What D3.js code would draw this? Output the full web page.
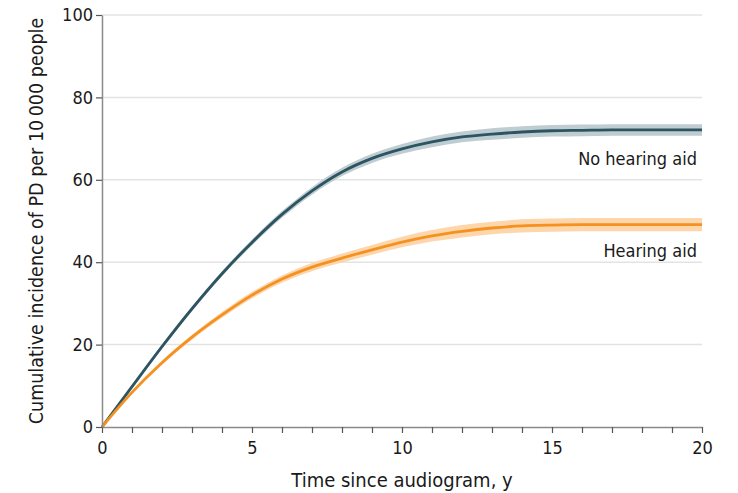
<!DOCTYPE html>
<html>
<head>
<meta charset="utf-8">
<script src="https://cdn.jsdelivr.net/npm/d3@7"></script>
<style>
  html, body { margin: 0; padding: 0; background: #fff; }
  svg { display: block; font-family: "DejaVu Sans Condensed", "DejaVu Sans", sans-serif; }
</style>
</head>
<body>
<svg id="chart" width="738" height="493"></svg>
<script>
// Years since audiogram
const years = [0, 1, 2, 3, 4, 5, 6, 7, 8, 9, 10, 11, 12, 13, 14, 15, 16, 17, 18, 19, 20];

// Cumulative incidence of PD per 10 000 people
const noAid = [0, 9.8, 19.5, 28.7, 37.2, 44.8, 51.6, 57.3, 61.9, 65.2, 67.5, 69.2, 70.4, 71.1, 71.6, 71.9, 72.0, 72.1, 72.1, 72.1, 72.1];
const withAid = [0, 8.4, 15.6, 21.8, 27.2, 32.0, 35.9, 38.8, 41.0, 43.0, 44.9, 46.4, 47.5, 48.3, 48.8, 49.0, 49.1, 49.1, 49.1, 49.1, 49.1];

// Half-width of the 95% confidence band
const noAidCI = [0, 0.3, 0.4, 0.5, 0.6, 0.7, 0.8, 0.9, 1.0, 1.1, 1.2, 1.3, 1.3, 1.4, 1.4, 1.4, 1.4, 1.4, 1.4, 1.4, 1.4];
const withAidCI = [0, 0.4, 0.5, 0.6, 0.7, 0.8, 0.9, 1.0, 1.1, 1.2, 1.3, 1.4, 1.5, 1.5, 1.6, 1.6, 1.6, 1.6, 1.6, 1.6, 1.6];

const seriesNames = ["No hearing aid", "Hearing aid"];
const xTickLabels = [0, 5, 10, 15, 20];
const yTickLabels = [0, 20, 40, 60, 80, 100];

const svg = d3.select("#chart");
const margin = { left: 102, right: 36, top: 15, bottom: 66 };
const W = 738, H = 493;

const x = d3.scaleLinear().domain([0, 20]).range([margin.left, W - margin.right]);
const y = d3.scaleLinear().domain([0, 100]).range([H - margin.bottom, margin.top]);

const axisColor = "#8a8a8a";
const textColor = "#1a1a1a";

// horizontal gridlines
svg.append("g")
  .selectAll("line")
  .data(yTickLabels.filter(d => d > 0))
  .join("line")
  .attr("x1", x(0)).attr("x2", x(20))
  .attr("y1", d => y(d)).attr("y2", d => y(d))
  .attr("stroke", "#e3e3e3").attr("stroke-width", 1.5);

function build(vals, ci) {
  return years.map((t, i) => ({ t, v: vals[i], lo: vals[i] - ci[i], hi: vals[i] + ci[i] }));
}

const series = [
  { name: seriesNames[0], data: build(noAid, noAidCI), line: "#2c5461", band: "#bfcdd2" },
  { name: seriesNames[1], data: build(withAid, withAidCI), line: "#f59120", band: "#fdd6ab" }
];

const area = d3.area().curve(d3.curveMonotoneX)
  .x(d => x(d.t)).y0(d => y(d.lo)).y1(d => y(d.hi));
const line = d3.line().curve(d3.curveMonotoneX)
  .x(d => x(d.t)).y(d => y(d.v));

series.forEach(s => {
  svg.append("path").datum(s.data).attr("d", area).attr("fill", s.band);
});
series.forEach(s => {
  svg.append("path").datum(s.data).attr("d", line)
    .attr("fill", "none").attr("stroke", s.line).attr("stroke-width", 2.8);
});

// axes
const xAxis = svg.append("g").attr("transform", `translate(0,${y(0)})`)
  .call(d3.axisBottom(x).tickValues(years).tickSize(6).tickSizeOuter(0)
    .tickFormat(d => xTickLabels.includes(d) ? d : ""));
const yAxis = svg.append("g").attr("transform", `translate(${x(0)},0)`)
  .call(d3.axisLeft(y).tickValues(yTickLabels).tickSize(6).tickSizeOuter(0));

[xAxis, yAxis].forEach(g => {
  g.select(".domain").attr("stroke", axisColor).attr("stroke-width", 1.5);
  g.selectAll(".tick line").attr("stroke", "#555").attr("stroke-width", 1.2);
  g.selectAll(".tick text").attr("fill", textColor).attr("font-size", 18)
    .attr("font-family", "'DejaVu Sans Condensed', 'DejaVu Sans', sans-serif");
});
xAxis.selectAll(".tick text").attr("y", 10).attr("dy", "0.95em");
yAxis.selectAll(".tick text").attr("x", -9);

// axis titles
svg.append("text")
  .attr("x", x(10)).attr("y", 487)
  .attr("text-anchor", "middle").attr("font-size", 20).attr("fill", textColor)
  .text("Time since audiogram, y");

svg.append("text")
  .attr("transform", `translate(43,${(y(0) + y(100)) / 2}) rotate(-90)`)
  .attr("text-anchor", "middle").attr("font-size", 19.5).attr("fill", textColor)
  .text("Cumulative incidence of PD per 10\u2009000 people");

// series labels
svg.append("text").attr("x", 697).attr("y", 165)
  .attr("text-anchor", "end").attr("font-size", 18).attr("fill", textColor)
  .text(seriesNames[0]);
svg.append("text").attr("x", 697).attr("y", 257)
  .attr("text-anchor", "end").attr("font-size", 18).attr("fill", textColor)
  .text(seriesNames[1]);
</script>
</body>
</html>
